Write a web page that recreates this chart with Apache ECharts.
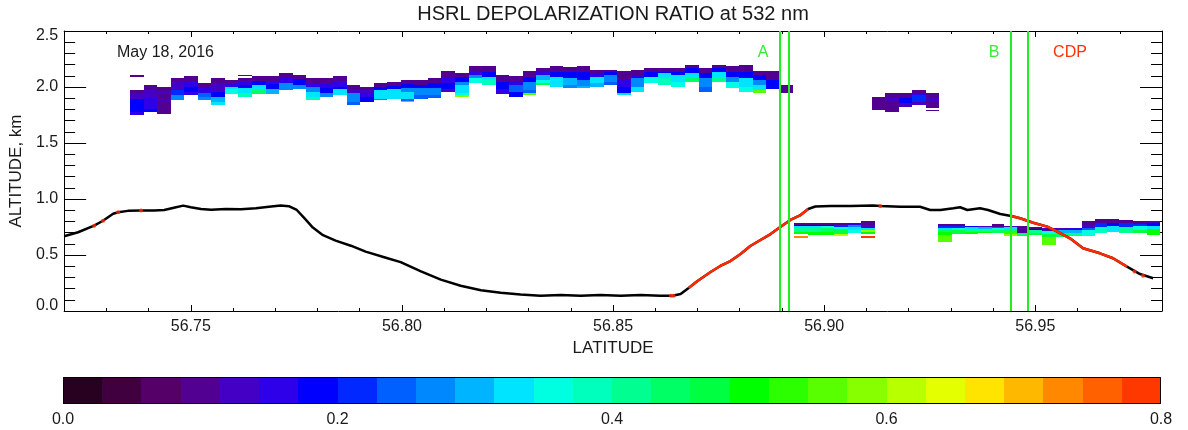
<!DOCTYPE html>
<html>
<head>
<meta charset="utf-8">
<script src="https://cdn.jsdelivr.net/npm/echarts@6.0.0/dist/echarts.min.js"></script>
<style>
html,body{margin:0;padding:0;background:#fff;}
#chart{width:1188px;height:430px;}
</style>
</head>
<body>
<div id="chart"></div>
<script>
// ---------------- DATA ----------------
// Axis ranges and tick labels
const latMin = 56.72, latMax = 56.98;
const altMin = 0.0, altMax = 2.5;
const latTicks = [56.75, 56.80, 56.85, 56.90, 56.95];
const latMinorTicks = [56.72, 56.73, 56.74, 56.76, 56.77, 56.78, 56.79, 56.81, 56.82, 56.83, 56.84,
  56.86, 56.87, 56.88, 56.89, 56.91, 56.92, 56.93, 56.94, 56.96, 56.97, 56.98];
const altTicks = [0.0, 0.5, 1.0, 1.5, 2.0, 2.5];
const altMinorTicks = [0.1,0.2,0.3,0.4,0.6,0.7,0.8,0.9,1.1,1.2,1.3,1.4,1.6,1.7,1.8,1.9,2.1,2.2,2.3,2.4];
const cbTicks = [0.0, 0.2, 0.4, 0.6, 0.8];
const cbMin = 0.0, cbMax = 0.8;
const cbColors = ['#280020','#400040','#540068','#520092','#4400c4','#2e00ea','#0000ff','#0028ff',
  '#0060ff','#0088ff','#00b4ff','#00e4ff','#00ffe0','#00ffbc','#00ff90','#00ff64','#00ff40','#00ff00',
  '#2cff00','#58ff00','#88ff00','#b8ff00','#e4ff00','#ffe400','#ffb800','#ff8800','#ff6000','#ff3800'];

// Lidar profile width (deg latitude)
const colWidth = 0.0032;

// Each column: [latitude start, [altTop, altBottom, depolarization], ...]
const upperLayer = [
[56.7356,[2.105,2.092,0.10],[1.973,1.942,0.10],[1.942,1.889,0.14],[1.889,1.779,0.19],[1.779,1.750,0.16]],
[56.7388,[2.018,1.979,0.10],[1.979,1.899,0.13],[1.899,1.801,0.16],[1.801,1.779,0.19]],
[56.7420,[1.997,1.961,0.10],[1.961,1.941,0.13],[1.941,1.892,0.10],[1.892,1.872,0.13],[1.872,1.759,0.10]],
[56.7452,[2.077,2.048,0.10],[2.048,1.973,0.13],[1.973,1.928,0.21],[1.928,1.884,0.28]],
[56.7484,[2.098,2.057,0.10],[2.057,2.003,0.15],[2.003,1.959,0.19],[1.959,1.928,0.16]],
[56.7516,[2.033,1.997,0.10],[1.997,1.943,0.15],[1.943,1.914,0.24],[1.914,1.884,0.27]],
[56.7548,[2.077,2.038,0.10],[2.038,1.959,0.13],[1.959,1.914,0.19],[1.914,1.869,0.30],[1.869,1.839,0.33]],
[56.7580,[2.063,2.033,0.10],[2.033,1.997,0.15],[1.997,1.979,0.33],[1.979,1.937,0.37]],
[56.7612,[2.107,2.098,0.10],[2.077,2.048,0.10],[2.048,2.018,0.15],[2.018,1.988,0.19],[1.988,1.943,0.33],[1.943,1.914,0.38]],
[56.7645,[2.098,2.057,0.10],[2.057,2.018,0.19],[2.018,1.979,0.33],[1.979,1.937,0.44]],
[56.7677,[2.098,2.057,0.10],[2.057,2.027,0.16],[2.027,1.979,0.19],[1.979,1.937,0.31]],
[56.7709,[2.122,2.077,0.10],[2.077,2.033,0.15],[2.033,1.973,0.27]],
[56.7741,[2.107,2.069,0.10],[2.069,2.018,0.19],[2.018,1.982,0.27]],
[56.7773,[2.077,2.033,0.10],[2.033,2.003,0.16],[2.003,1.959,0.27],[1.959,1.914,0.33],[1.914,1.884,0.38]],
[56.7805,[2.077,2.033,0.10],[2.033,1.988,0.15],[1.988,1.943,0.19],[1.943,1.914,0.27]],
[56.7837,[2.098,2.048,0.10],[2.048,2.003,0.15],[2.003,1.979,0.19],[1.979,1.928,0.33]],
[56.7869,[2.018,1.979,0.10],[1.979,1.943,0.14],[1.943,1.869,0.27],[1.869,1.839,0.24]],
[56.7901,[1.997,1.973,0.10],[1.973,1.949,0.13],[1.949,1.914,0.16],[1.914,1.869,0.19]],
[56.7933,[2.038,2.003,0.10],[2.003,1.973,0.19],[1.973,1.893,0.33],[1.893,1.884,0.27]],
[56.7965,[2.044,2.009,0.10],[2.009,1.979,0.19],[1.979,1.893,0.33]],
[56.7997,[2.063,2.024,0.10],[2.024,1.988,0.19],[1.988,1.959,0.27],[1.959,1.890,0.33],[1.890,1.878,0.23],[1.878,1.863,0.33]],
[56.8029,[2.063,2.018,0.10],[2.018,1.988,0.19],[1.988,1.928,0.27],[1.928,1.890,0.23]],
[56.8061,[2.077,2.033,0.10],[2.033,1.988,0.19],[1.988,1.928,0.27],[1.928,1.899,0.23]],
[56.8093,[2.143,2.077,0.10],[2.077,2.033,0.15],[2.033,1.979,0.19],[1.979,1.959,0.13]],
[56.8125,[2.127,2.086,0.10],[2.086,2.048,0.19],[2.048,2.018,0.27],[2.018,1.943,0.33],[1.943,1.928,0.37],[1.928,1.914,0.59]],
[56.8158,[2.187,2.137,0.10],[2.137,2.107,0.15],[2.107,2.077,0.27],[2.077,2.033,0.36]],
[56.8190,[2.187,2.137,0.10],[2.137,2.092,0.19],[2.092,2.063,0.33],[2.063,2.018,0.39]],
[56.8222,[2.107,2.048,0.10],[2.048,1.979,0.19],[1.979,1.934,0.16]],
[56.8254,[2.098,2.048,0.10],[2.048,2.018,0.15],[2.018,1.959,0.25],[1.959,1.914,0.19]],
[56.8286,[2.143,2.092,0.10],[2.092,2.048,0.19],[2.048,1.973,0.27],[1.973,1.943,0.24],[1.943,1.928,0.57]],
[56.8318,[2.167,2.137,0.10],[2.137,2.107,0.15],[2.107,2.063,0.30],[2.063,2.033,0.37],[2.033,2.018,0.47]],
[56.8350,[2.187,2.137,0.10],[2.137,2.092,0.19],[2.092,2.033,0.34],[2.033,2.003,0.33]],
[56.8382,[2.181,2.137,0.10],[2.137,2.077,0.19],[2.077,2.018,0.31],[2.018,1.990,0.27]],
[56.8414,[2.187,2.137,0.10],[2.137,2.063,0.19],[2.063,2.009,0.27],[2.009,1.988,0.30]],
[56.8446,[2.152,2.122,0.10],[2.122,2.092,0.15],[2.092,2.033,0.33],[2.033,2.003,0.31]],
[56.8478,[2.152,2.137,0.10],[2.137,2.107,0.19],[2.107,2.048,0.27],[2.048,2.018,0.23]],
[56.8510,[2.147,2.063,0.10],[2.063,2.003,0.15],[2.003,1.943,0.19],[1.943,1.928,0.33]],
[56.8542,[2.152,2.107,0.10],[2.107,2.077,0.15],[2.077,2.003,0.27],[2.003,1.959,0.33]],
[56.8574,[2.167,2.137,0.10],[2.137,2.092,0.19],[2.092,2.033,0.36]],
[56.8606,[2.167,2.137,0.10],[2.137,2.122,0.19],[2.122,2.077,0.33],[2.077,2.018,0.39]],
[56.8638,[2.167,2.137,0.10],[2.137,2.107,0.19],[2.107,2.048,0.33],[2.048,2.003,0.37]],
[56.8671,[2.196,2.167,0.10],[2.167,2.122,0.19],[2.122,2.077,0.33],[2.077,2.048,0.44]],
[56.8703,[2.167,2.122,0.10],[2.122,2.077,0.19],[2.077,2.003,0.27],[2.003,1.959,0.23]],
[56.8735,[2.196,2.167,0.10],[2.167,2.137,0.19],[2.137,2.092,0.33],[2.092,2.048,0.41]],
[56.8767,[2.187,2.137,0.10],[2.137,2.092,0.19],[2.092,2.048,0.27],[2.048,1.988,0.35]],
[56.8799,[2.196,2.137,0.10],[2.137,2.077,0.19],[2.077,2.003,0.33],[2.003,1.959,0.37]],
[56.8831,[2.147,2.107,0.10],[2.107,2.063,0.19],[2.063,2.018,0.27],[2.018,1.973,0.33],[1.973,1.943,0.56]],
[56.8863,[2.147,2.063,0.10],[2.063,1.979,0.19]],
[56.8895,[2.018,1.943,0.10]]
];

const midLayer = [
[56.9113,[1.914,1.795,0.11]],
[56.9145,[1.950,1.914,0.10],[1.914,1.870,0.13],[1.870,1.780,0.10]],
[56.9177,[1.944,1.914,0.10],[1.914,1.899,0.16],[1.899,1.861,0.19],[1.861,1.825,0.13]],
[56.9209,[1.973,1.944,0.10],[1.944,1.929,0.16],[1.929,1.870,0.21],[1.870,1.839,0.14]],
[56.9241,[1.950,1.914,0.10],[1.914,1.870,0.14],[1.870,1.810,0.10],[1.795,1.783,0.10]]
];

const lowerLayer = [
[56.8929,[0.789,0.771,0.11],[0.771,0.759,0.19],[0.759,0.738,0.33],[0.738,0.709,0.42],[0.709,0.684,0.50],[0.670,0.655,0.73]],
[56.8962,[0.789,0.771,0.11],[0.771,0.759,0.19],[0.759,0.741,0.33],[0.741,0.706,0.42],[0.706,0.679,0.50]],
[56.8993,[0.789,0.771,0.11],[0.771,0.762,0.19],[0.762,0.741,0.36],[0.741,0.703,0.44],[0.703,0.679,0.49]],
[56.9024,[0.783,0.768,0.11],[0.768,0.753,0.21],[0.753,0.730,0.36],[0.730,0.691,0.47],[0.691,0.670,0.62]],
[56.9057,[0.783,0.765,0.15],[0.765,0.747,0.27],[0.747,0.726,0.33],[0.726,0.694,0.37]],
[56.9088,[0.804,0.765,0.10],[0.765,0.741,0.13],[0.741,0.726,0.33],[0.726,0.703,0.60],[0.703,0.684,0.50],[0.670,0.655,0.79]],
[56.9270,[0.777,0.756,0.10],[0.756,0.741,0.22],[0.741,0.721,0.33],[0.721,0.703,0.44],[0.703,0.679,0.50],[0.679,0.613,0.57]],
[56.9303,[0.777,0.756,0.10],[0.756,0.741,0.22],[0.741,0.724,0.36],[0.724,0.684,0.48]],
[56.9334,[0.759,0.747,0.19],[0.747,0.732,0.33],[0.732,0.706,0.42],[0.706,0.684,0.50]],
[56.9365,[0.759,0.747,0.13],[0.747,0.732,0.30],[0.732,0.706,0.41],[0.706,0.694,0.50]],
[56.9398,[0.777,0.753,0.10],[0.753,0.738,0.24],[0.738,0.721,0.36],[0.721,0.694,0.45]],
[56.9426,[0.759,0.747,0.13],[0.747,0.732,0.33],[0.732,0.709,0.44],[0.709,0.691,0.52],[0.691,0.672,0.58]],
[56.9457,[0.759,0.694,0.11],[0.694,0.670,0.45]],
[56.9483,[0.753,0.732,0.10],[0.732,0.721,0.19],[0.721,0.697,0.41],[0.697,0.679,0.48]],
[56.9516,[0.738,0.715,0.13],[0.715,0.691,0.36],[0.691,0.657,0.47],[0.657,0.589,0.55]],
[56.9549,[0.738,0.721,0.13],[0.721,0.700,0.30],[0.700,0.664,0.45]],
[56.9580,[0.738,0.721,0.17],[0.721,0.697,0.30],[0.697,0.670,0.42]],
[56.9611,[0.804,0.768,0.10],[0.768,0.738,0.13],[0.738,0.721,0.24],[0.721,0.670,0.37]],
[56.9641,[0.819,0.783,0.10],[0.783,0.753,0.21],[0.753,0.694,0.38]],
[56.9670,[0.819,0.789,0.10],[0.789,0.759,0.19],[0.759,0.709,0.33]],
[56.9698,[0.813,0.783,0.10],[0.783,0.753,0.22],[0.753,0.694,0.41]],
[56.9731,[0.807,0.778,0.10],[0.778,0.756,0.21],[0.756,0.724,0.36],[0.724,0.694,0.48]],
[56.9764,[0.807,0.783,0.13],[0.783,0.759,0.19],[0.759,0.730,0.33],[0.730,0.679,0.50]]
];

// Aircraft altitude track (km)
const trackLat = [56.7200,56.7233,56.7271,56.7292,56.7316,56.7328,56.7351,56.7382,56.7413,56.7437,
  56.7460,56.7482,56.7500,56.7524,56.7548,56.7583,56.7619,56.7654,56.7685,56.7713,56.7732,56.7751,
  56.7770,56.7789,56.7813,56.7843,56.7879,56.7914,56.7962,56.7997,56.8045,56.8092,56.8139,56.8187,
  56.8234,56.8281,56.8328,56.8376,56.8423,56.8470,56.8518,56.8565,56.8612,56.8641,56.8660,56.8679,
  56.8700,56.8731,56.8754,56.8778,56.8802,56.8825,56.8849,56.8873,56.8896,56.8920,56.8944,56.8962,
  56.8979,56.9015,56.9062,56.9116,56.9133,56.9180,56.9227,56.9251,56.9275,56.9306,56.9322,56.9339,
  56.9369,56.9388,56.9417,56.9443,56.9464,56.9495,56.9528,56.9552,56.9582,56.9613,56.9653,56.9684,
  56.9717,56.9748,56.9779];
const trackAlt = [0.667,0.703,0.762,0.806,0.868,0.882,0.894,0.897,0.898,0.902,
  0.922,0.941,0.927,0.910,0.904,0.910,0.908,0.917,0.931,0.941,0.936,0.902,
  0.824,0.745,0.677,0.628,0.583,0.530,0.476,0.436,0.353,0.280,0.226,0.186,
  0.162,0.147,0.137,0.142,0.137,0.142,0.137,0.142,0.137,0.137,0.152,0.205,
  0.268,0.348,0.402,0.446,0.509,0.580,0.634,0.687,0.750,0.813,0.857,0.911,
  0.933,0.937,0.937,0.942,0.937,0.931,0.931,0.902,0.902,0.917,0.926,0.902,
  0.917,0.902,0.866,0.848,0.828,0.788,0.753,0.708,0.649,0.560,0.515,0.471,
  0.396,0.330,0.292];
// CDP sampling periods (latitude ranges) and isolated CDP samples
const cdpRanges = [[56.8670, 56.8962], [56.9440, 56.9720]];
const cdpDots = [[56.7271,0.762],[56.7292,0.806],[56.7328,0.882],[56.7382,0.897],
  [56.8637,0.137],[56.8643,0.137],[56.9133,0.937],[56.9735,0.353],[56.9755,0.314]];
// Leg markers (green lines)
const legLines = [56.8896, 56.8917, 56.9443, 56.9482];

// ---------------- BUILD ----------------
function depolColor(v) {
  let k = Math.floor((v - cbMin) / (cbMax - cbMin) * cbColors.length);
  k = Math.max(0, Math.min(cbColors.length - 1, k));
  return cbColors[k];
}
function cellsFrom(layer) {
  const out = [];
  layer.forEach((col, i) => {
    const lat0 = col[0];
    let lat1 = lat0 + colWidth;
    const next = layer[i + 1];
    if (next && next[0] > lat0 && next[0] - lat0 < colWidth * 1.3) lat1 = next[0];
    for (let j = 1; j < col.length; j++) {
      const s = col[j];
      out.push([lat0, lat1, s[0], s[1], s[2]]);
    }
  });
  return out;
}
const cloudCells = cellsFrom(upperLayer).concat(cellsFrom(midLayer), cellsFrom(lowerLayer));
const trackData = trackLat.map((x, i) => [x, trackAlt[i]]);
const cdpData = trackLat.map((x, i) => {
  const on = cdpRanges.some(r => x >= r[0] && x <= r[1]);
  return on ? [x, trackAlt[i]] : [x, '-'];
});
const cbBins = cbColors.map((c, i) => [cbMin + i * (cbMax - cbMin) / cbColors.length,
  cbMin + (i + 1) * (cbMax - cbMin) / cbColors.length, i]);

const FONT = 'Liberation Sans, Arial, Helvetica, sans-serif';
const TXT = '#1a1a1a';
const FS = 16;

const chart = echarts.init(document.getElementById('chart'), null, {renderer: 'canvas'});

function rectItem(api, lat0, lat1, top, bot, fill) {
  const p0 = api.coord([lat0, top]);
  const p1 = api.coord([lat1, bot]);
  const x0 = Math.round(p0[0]), x1 = Math.round(p1[0]);
  const y0 = Math.round(p0[1]), y1 = Math.round(p1[1]);
  return {type: 'rect', shape: {x: x0, y: y0, width: Math.max(1, x1 - x0), height: Math.max(1, y1 - y0)},
    style: {fill: fill}};
}
const labelRich = {
  lo: {padding: [0, 0, 10, 0], fontSize: FS, color: TXT, fontFamily: FONT},
  hi: {padding: [9, 0, 0, 0], fontSize: FS, color: TXT, fontFamily: FONT}
};

const option = {
  animation: false,
  backgroundColor: '#fff',
  textStyle: {fontFamily: FONT},
  grid: [
    {left: 63, top: 31, width: 1099, height: 280, show: false},
    {left: 63, top: 377, width: 1098, height: 27, show: false}
  ],
  xAxis: [
    {gridIndex: 0, type: 'value', position: 'bottom', min: latMin, max: latMax,
      axisLine: {show: true, onZero: false, lineStyle: {color: '#000', width: 1}},
      axisTick: {show: true, inside: true, length: 6, customValues: latTicks, lineStyle: {color: '#000'}},
      axisLabel: {show: true, customValues: latTicks, formatter: v => v.toFixed(2), color: TXT, fontSize: FS, margin: 8, fontFamily: FONT},
      splitLine: {show: false},
      name: 'LATITUDE', nameLocation: 'middle', nameGap: 24,
      nameTextStyle: {color: TXT, fontSize: 17, fontFamily: FONT}},
    {gridIndex: 0, type: 'value', position: 'bottom', min: latMin, max: latMax,
      axisLine: {show: false, onZero: false},
      axisTick: {show: true, inside: true, length: 3, customValues: latMinorTicks, lineStyle: {color: '#000'}},
      axisLabel: {show: false}, splitLine: {show: false}},
    {gridIndex: 0, type: 'value', position: 'top', min: latMin, max: latMax,
      axisLine: {show: true, onZero: false, lineStyle: {color: '#000', width: 1}},
      axisTick: {show: true, inside: true, length: 6, customValues: latTicks, lineStyle: {color: '#000'}},
      axisLabel: {show: false}, splitLine: {show: false}},
    {gridIndex: 0, type: 'value', position: 'top', min: latMin, max: latMax,
      axisLine: {show: false, onZero: false},
      axisTick: {show: true, inside: true, length: 3, customValues: latMinorTicks, lineStyle: {color: '#000'}},
      axisLabel: {show: false}, splitLine: {show: false}},
    {gridIndex: 1, type: 'value', position: 'bottom', min: cbMin, max: cbMax,
      axisLine: {show: false}, axisTick: {show: false},
      axisLabel: {show: true, customValues: cbTicks, formatter: v => v.toFixed(1), color: TXT, fontSize: FS, margin: 8, fontFamily: FONT},
      splitLine: {show: false}}
  ],
  yAxis: [
    {gridIndex: 0, type: 'value', position: 'left', min: altMin, max: altMax,
      axisLine: {show: true, onZero: false, lineStyle: {color: '#000', width: 1}},
      axisTick: {show: true, inside: true, length: 22, customValues: altTicks, lineStyle: {color: '#000'}},
      axisLabel: {show: true, customValues: altTicks, color: TXT, fontSize: FS, margin: 6, fontFamily: FONT,
        formatter: v => v <= altMin ? '{lo|' + v.toFixed(1) + '}' : (v >= altMax ? '{hi|' + v.toFixed(1) + '}' : v.toFixed(1)),
        rich: labelRich},
      splitLine: {show: false},
      name: 'ALTITUDE, km', nameLocation: 'middle', nameGap: 33,
      nameTextStyle: {color: TXT, fontSize: 17, fontFamily: FONT}},
    {gridIndex: 0, type: 'value', position: 'left', min: altMin, max: altMax,
      axisLine: {show: false, onZero: false},
      axisTick: {show: true, inside: true, length: 11, customValues: altMinorTicks, lineStyle: {color: '#000'}},
      axisLabel: {show: false}, splitLine: {show: false}},
    {gridIndex: 0, type: 'value', position: 'right', min: altMin, max: altMax,
      axisLine: {show: true, onZero: false, lineStyle: {color: '#000', width: 1}},
      axisTick: {show: true, inside: true, length: 22, customValues: altTicks, lineStyle: {color: '#000'}},
      axisLabel: {show: false}, splitLine: {show: false}},
    {gridIndex: 0, type: 'value', position: 'right', min: altMin, max: altMax,
      axisLine: {show: false, onZero: false},
      axisTick: {show: true, inside: true, length: 11, customValues: altMinorTicks, lineStyle: {color: '#000'}},
      axisLabel: {show: false}, splitLine: {show: false}},
    {gridIndex: 1, type: 'value', min: 0, max: 1, show: false}
  ],
  series: [
    {type: 'custom', name: 'depol', xAxisIndex: 0, yAxisIndex: 0, clip: true, z: 2,
      dimensions: ['lat0', 'lat1', 'top', 'bot', 'depol'],
      encode: {x: [0, 1], y: [2, 3]},
      data: cloudCells,
      renderItem: (params, api) => rectItem(api, api.value(0), api.value(1), api.value(2), api.value(3), depolColor(api.value(4)))},
    {type: 'line', name: 'track', xAxisIndex: 0, yAxisIndex: 0, data: trackData, showSymbol: false, z: 4,
      lineStyle: {color: '#000', width: 2.5}, silent: true},
    {type: 'line', name: 'cdp', xAxisIndex: 0, yAxisIndex: 0, data: cdpData, showSymbol: false, connectNulls: false, z: 5,
      lineStyle: {color: '#ff2a00', width: 2.5}, silent: true},
    {type: 'scatter', name: 'cdpDots', xAxisIndex: 0, yAxisIndex: 0, data: cdpDots, symbolSize: 4, z: 5,
      itemStyle: {color: '#ff2a00'}, silent: true},
    {type: 'custom', name: 'legs', xAxisIndex: 0, yAxisIndex: 0, z: 6, silent: true,
      data: legLines.map(v => [v]),
      encode: {x: 0},
      renderItem: (params, api) => {
        const pTop = api.coord([api.value(0), altMax]);
        const pBot = api.coord([api.value(0), altMin]);
        const x = Math.round(pTop[0]);
        return {type: 'line', shape: {x1: x, y1: pTop[1], x2: x, y2: pBot[1]},
          style: {stroke: '#22ee22', lineWidth: 2}};
      }},
    {type: 'custom', name: 'colorbar', xAxisIndex: 4, yAxisIndex: 4, z: 2,
      data: cbBins,
      renderItem: (params, api) => rectItem(api, api.value(0), api.value(1), 1, 0, cbColors[api.value(2)])},
    {type: 'custom', name: 'colorbarFrame', xAxisIndex: 4, yAxisIndex: 4, z: 3,
      data: [[cbMin, cbMax]],
      renderItem: (params, api) => {
        const p0 = api.coord([api.value(0), 1]);
        const p1 = api.coord([api.value(1), 0]);
        return {type: 'rect', shape: {x: Math.round(p0[0]) + 0.5, y: Math.round(p0[1]) + 0.5,
          width: Math.round(p1[0] - p0[0]) - 1, height: Math.round(p1[1] - p0[1]) - 1},
          style: {fill: null, stroke: '#000', lineWidth: 1}};
      }}
  ],
  graphic: [
    {type: 'text', x: 613, y: 14, style: {text: 'HSRL DEPOLARIZATION RATIO at 532 nm', font: '20px ' + FONT, fill: TXT, align: 'center', verticalAlign: 'middle'}},
    {type: 'text', x: 117, y: 53, style: {text: 'May 18, 2016', font: FS + 'px ' + FONT, fill: TXT, verticalAlign: 'middle'}},
    {type: 'text', x: 763, y: 53, style: {text: 'A', font: FS + 'px ' + FONT, fill: '#33ee33', align: 'center', verticalAlign: 'middle'}},
    {type: 'text', x: 994, y: 53, style: {text: 'B', font: FS + 'px ' + FONT, fill: '#33ee33', align: 'center', verticalAlign: 'middle'}},
    {type: 'text', x: 1070, y: 53, style: {text: 'CDP', font: FS + 'px ' + FONT, fill: '#ff3300', align: 'center', verticalAlign: 'middle'}}
  ]
};
chart.setOption(option);
</script>
</body>
</html>
